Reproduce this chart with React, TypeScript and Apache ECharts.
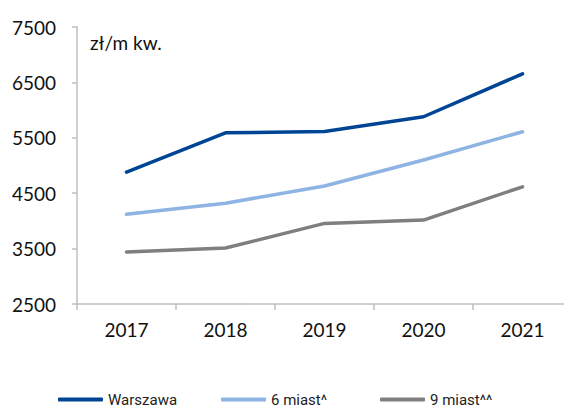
import React, { useEffect, useRef } from "react";
import * as echarts from "echarts";

const years = ["2017", "2018", "2019", "2020", "2021"];
const warszawa = [4880, 5590, 5615, 5880, 6655];
const miast6 = [4120, 4320, 4630, 5100, 5610];
const miast9 = [3440, 3510, 3955, 4015, 4615];
const seriesNames = ["Warszawa", "6 miast^", "9 miast^^"];
const colors = ["#004494", "#8db4e2", "#7f7f7f"];
const unitLabel = "zł/m kw.";

export default function App() {
  const ref = useRef<HTMLDivElement>(null);
  useEffect(() => {
    if (!ref.current) return;
    const chart = echarts.init(ref.current, null, { renderer: "svg" });
    const data = [warszawa, miast6, miast9];
    const legendLefts = [58, 221, 380];
    chart.setOption({
      animation: false,
      grid: { left: 77, right: 0, top: 27, bottom: 103 },
      legend: seriesNames.map((n, i) => ({
        data: [n],
        left: legendLefts[i],
        top: 392,
        padding: 0,
        icon: "roundRect",
        itemWidth: 45,
        itemHeight: 4,
        itemGap: 3,
        textStyle: { fontFamily: "Roboto", fontSize: 15, lineHeight: 14, color: "#222" },
      })),
      xAxis: {
        type: "category",
        data: years,
        boundaryGap: true,
        axisLine: { lineStyle: { color: "#bfbfbf", width: 1.5 } },
        axisTick: { show: true, length: 6, lineStyle: { color: "#bfbfbf", width: 1.5 } },
        axisLabel: { fontFamily: "Lato", fontSize: 19, color: "#111", margin: 16 },
      },
      yAxis: {
        type: "value",
        min: 2500,
        max: 7500,
        interval: 1000,
        splitLine: { show: false },
        axisLine: { show: true, lineStyle: { color: "#bfbfbf", width: 1.5 } },
        axisTick: { show: true, length: 5, lineStyle: { color: "#bfbfbf", width: 1.5 } },
        axisLabel: {
          fontFamily: "Lato",
          fontSize: 19,
          color: "#111",
          margin: 21,
          formatter: (v: number) => String(v),
        },
      },
      graphic: [
        {
          type: "text",
          left: 90,
          top: 33,
          style: { text: unitLabel, fontFamily: "Lato", fontSize: 19, fill: "#111" },
        },
      ],
      series: seriesNames.map((n, i) => ({
        name: n,
        type: "line",
        data: data[i],
        symbol: "none",
        color: colors[i],
        lineStyle: { width: 3.5, color: colors[i], cap: "round" },
      })),
    });
    return () => chart.dispose();
  }, []);
  return <div ref={ref} style={{ width: 572, height: 407, marginLeft: -8, marginTop: -8 }} />;
}
